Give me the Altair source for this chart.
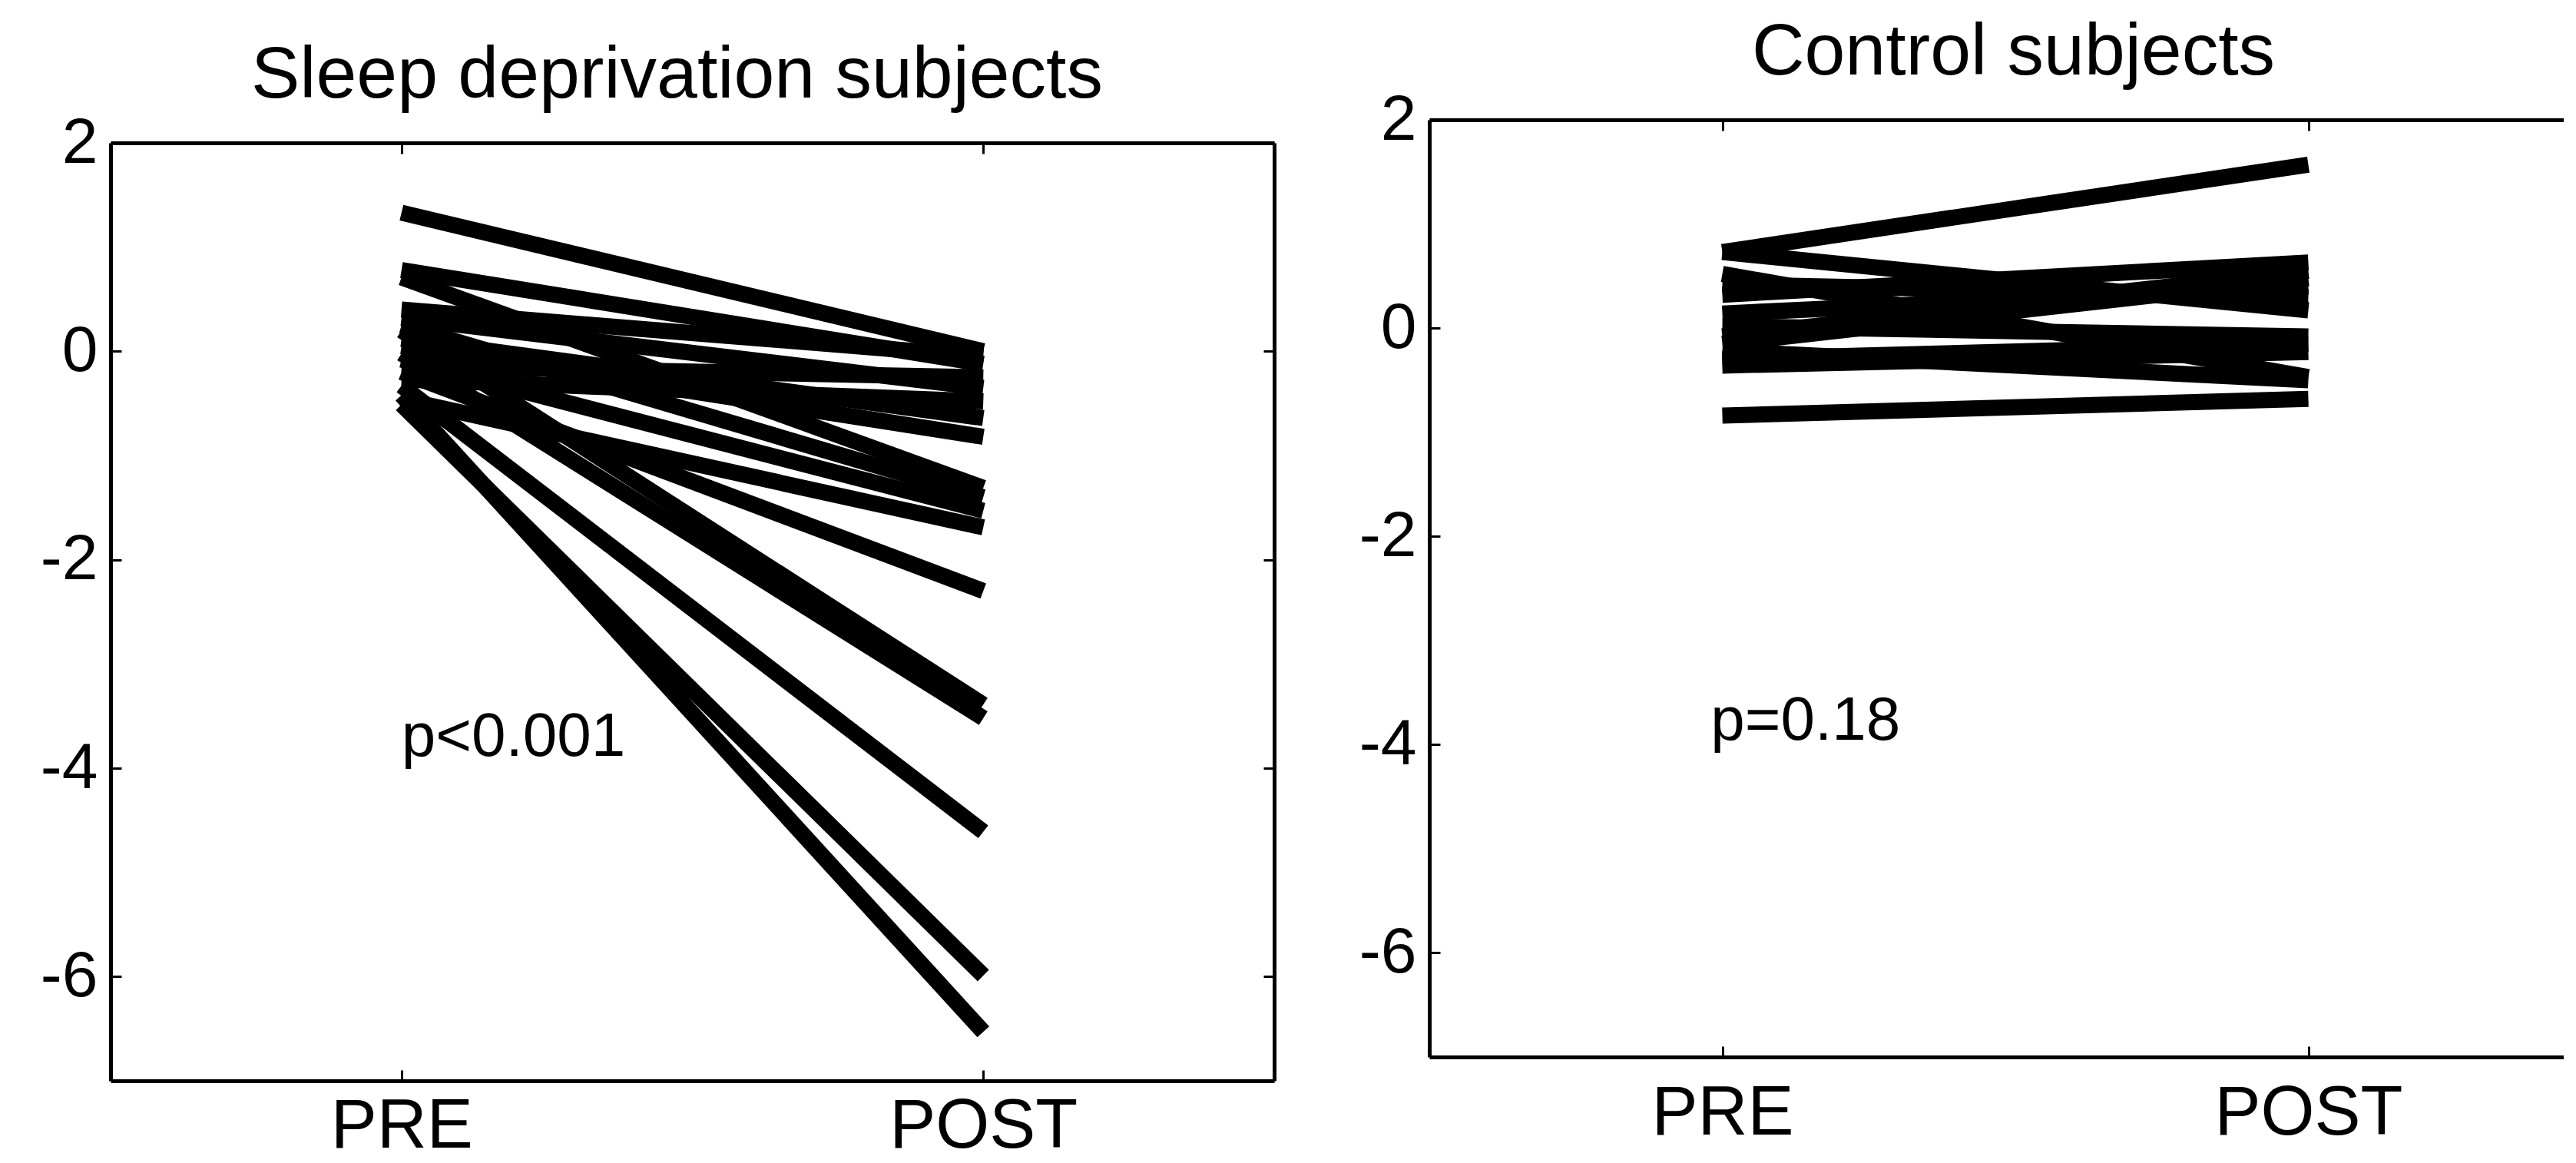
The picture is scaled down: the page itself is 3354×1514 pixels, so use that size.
import altair as alt
import pandas as pd

FONT = "Liberation Sans"

# x positions of the two sessions and their tick labels
STAGE_POS = [1, 2]
STAGE_NAMES = ["PRE", "POST"]
Y_TICKS = [2, 0, -2, -4, -6]

# Sleep deprivation subjects (value at PRE, value at POST), one entry per subject
SD_PRE = [1.33, 0.78, 0.71, 0.40, 0.32, 0.25, 0.20, 0.12, 0.05, -0.02,
          -0.08, -0.14, -0.20, -0.27, -0.33, -0.42, -0.46, -0.51]
SD_POST = [0.00, -0.12, -1.31, -0.05, -0.35, -1.40, -3.39, -0.64, -0.82, -3.52,
           -1.53, -0.25, -2.30, -0.48, -4.61, -6.53, -1.69, -5.99]

# Control subjects
CT_PRE = [0.73, 0.73, 0.52, 0.42, 0.32, 0.14, 0.02, -0.08, -0.15, -0.22,
          -0.30, -0.36, -0.84]
CT_POST = [1.57, 0.17, -0.47, 0.30, 0.63, 0.40, -0.08, 0.55, 0.48, -0.50,
           -0.15, -0.23, -0.68]

TITLES = ["Sleep deprivation subjects", "Control subjects"]
P_LABELS = ["p<0.001", "p=0.18"]
P_X = [1.0, 0.98]
P_Y = [-3.88, -3.95]

FRAME_W = 5
TICK_LEN = 14


def long_df(pre, post):
    rows = []
    for i, (a, b) in enumerate(zip(pre, post)):
        rows.append({"subject": i, "pos": STAGE_POS[0], "value": a})
        rows.append({"subject": i, "pos": STAGE_POS[1], "value": b})
    return pd.DataFrame(rows)


def frame_axis(orient):
    return alt.Axis(orient=orient, labels=False, ticks=False, grid=False, title=None,
                    domain=True, domainColor="black", domainWidth=FRAME_W)


def inner_ticks(orient, values):
    # ticks drawn just inside the frame
    return alt.Axis(orient=orient, values=values, labels=False, ticks=True,
                    tickSize=TICK_LEN, tickWidth=3, tickColor="black",
                    offset=-TICK_LEN, domain=False, grid=False, title=None)


def panel(pre, post, title, plabel, px, py, width, height, xmax, right_frame, dx, xpad):
    df = long_df(pre, post)
    xs = alt.Scale(domain=[0.5, xmax], nice=False, zero=False)
    ys = alt.Scale(domain=[-7, 2], nice=False, zero=False)
    label_expr = (f"datum.value == {STAGE_POS[0]} ? '{STAGE_NAMES[0]}' : "
                  f"'{STAGE_NAMES[1]}'")
    xaxis = alt.Axis(orient="bottom", values=STAGE_POS, labelExpr=label_expr,
                     labelFontSize=90, labelFont=FONT, labelColor="black",
                     labelBaseline="alphabetic", labelPadding=xpad, labelLimit=0,
                     ticks=False, grid=False, title=None,
                     domain=True, domainColor="black", domainWidth=FRAME_W)
    yaxis = alt.Axis(orient="left", values=Y_TICKS, labelExpr="'' + datum.value",
                     labelFontSize=84, labelFont=FONT, labelColor="black",
                     labelPadding=17, labelLimit=0, ticks=False, grid=False, title=None,
                     domain=True, domainColor="black", domainWidth=FRAME_W)
    lines = alt.Chart(df).mark_line(color="black", strokeWidth=21, strokeCap="butt").encode(
        x=alt.X("pos:Q", scale=xs, axis=xaxis),
        y=alt.Y("value:Q", scale=ys, axis=yaxis),
        detail="subject:N",
    )
    if right_frame:
        yframe = alt.Y("value:Q", scale=ys, axis=frame_axis("right"))
        yticks_r = alt.Y("value:Q", scale=ys, axis=inner_ticks("right", Y_TICKS))
    else:
        yframe = alt.Y("value:Q", scale=ys, axis=None)
        yticks_r = alt.Y("value:Q", scale=ys, axis=None)
    frame = alt.Chart(df).mark_line(opacity=0).encode(
        x=alt.X("pos:Q", scale=xs, axis=frame_axis("top")),
        y=yframe,
        detail="subject:N",
    )
    ticks_a = alt.Chart(df).mark_line(opacity=0).encode(
        x=alt.X("pos:Q", scale=xs, axis=inner_ticks("bottom", STAGE_POS)),
        y=alt.Y("value:Q", scale=ys, axis=inner_ticks("left", Y_TICKS)),
        detail="subject:N",
    )
    ticks_b = alt.Chart(df).mark_line(opacity=0).encode(
        x=alt.X("pos:Q", scale=xs, axis=inner_ticks("top", STAGE_POS)),
        y=yticks_r,
        detail="subject:N",
    )
    tdf = pd.DataFrame({"pos": [px], "value": [py], "label": [plabel]})
    ptext = alt.Chart(tdf).mark_text(align="left", baseline="alphabetic", fontSize=80,
                                     font=FONT, color="black").encode(
        x=alt.X("pos:Q", scale=xs, axis=None),
        y=alt.Y("value:Q", scale=ys, axis=None),
        text="label:N",
    )
    return alt.layer(lines, frame, ticks_a, ticks_b, ptext).resolve_axis(
        x="independent", y="independent"
    ).properties(
        width=width, height=height,
        title=alt.TitleParams(text=title, fontSize=95, font=FONT, fontWeight="normal",
                              color="black", offset=-98, baseline="bottom",
                              dx=dx, anchor="middle"),
    )


def spacer(h):
    return alt.Chart(pd.DataFrame({"s": [0]})).mark_rect(opacity=0).encode(
        x=alt.value(0), x2=alt.value(1), y=alt.value(0), y2=alt.value(1)
    ).properties(width=1, height=h)


left_panel = panel(SD_PRE, SD_POST, TITLES[0], P_LABELS[0], P_X[0], P_Y[0],
                   1515, 1221, 2.5, True, -20, 86)
right_panel = panel(CT_PRE, CT_POST, TITLES[1], P_LABELS[1], P_X[1], P_Y[1],
                    1477, 1220, 0.5 + 1477 / 763, False, 22, 100)

left = alt.vconcat(spacer(31), left_panel, spacing=0)
right = alt.vconcat(spacer(1), right_panel, spacing=0)

chart = alt.hconcat(left, right, spacing=108).properties(
    padding={"left": 44, "top": 12, "right": 0, "bottom": 0},
    background="white",
).configure_view(stroke=None)

chart.save("out.html", embed_options={"renderer": "svg", "actions": False})
